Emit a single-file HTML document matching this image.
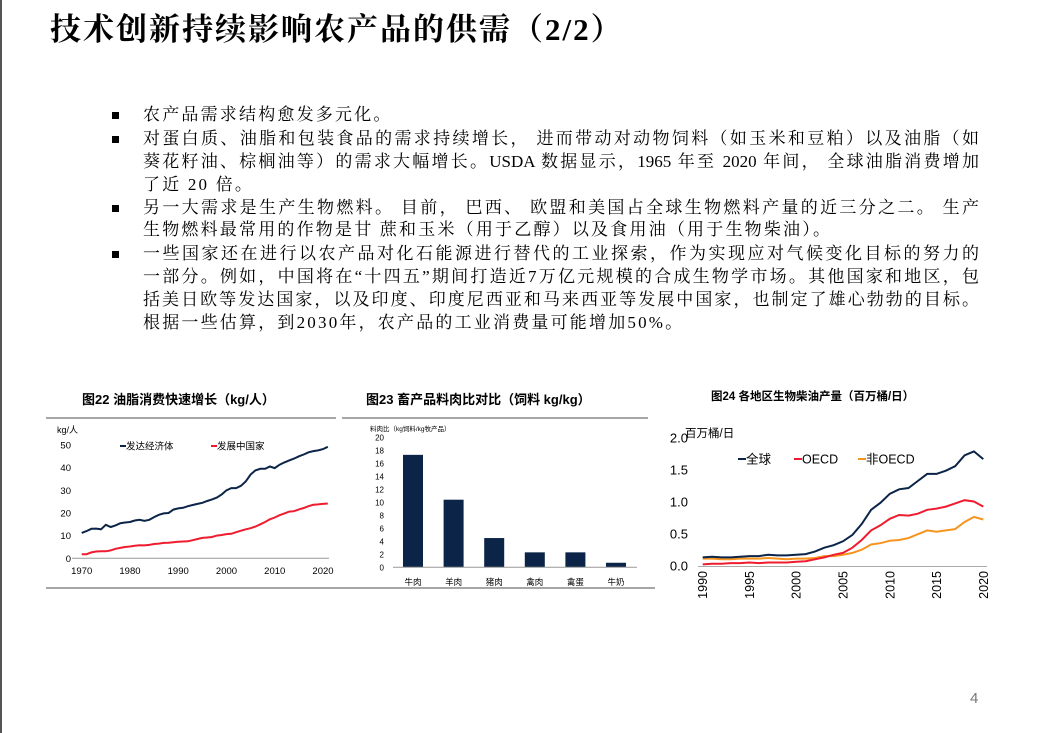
<!DOCTYPE html>
<html><head><meta charset="utf-8"><style>
body{margin:0;width:1062px;height:733px;background:#fff;position:relative;overflow:hidden;font-family:"Liberation Serif","Noto Serif CJK SC",serif;color:#000}
.abs{position:absolute}
.title{left:50px;top:4px;font-size:31px;letter-spacing:2px;font-family:"Liberation Serif","Noto Serif CJK SC",serif;font-weight:bold}
.ln{position:absolute;left:143px;width:836px;font-size:17px;line-height:20px;white-space:nowrap;text-align:justify;text-align-last:justify}
.ln.last{text-align-last:left;letter-spacing:2.2px}
.bul{position:absolute;left:112px;width:7px;height:7px;background:#000}
svg text{font-family:"Liberation Sans","Noto Sans CJK SC",sans-serif}
</style></head><body>
<div class="abs" style="left:0;top:0;width:2px;height:733px;background:#555"></div>
<div class="abs title">技术创新持续影响农产品的供需（2/2）</div>
<div class="bul" style="top:112px"></div>
<div class="ln last" style="top:105px">农产品需求结构愈发多元化。</div>
<div class="bul" style="top:136px"></div>
<div class="ln" style="top:129px">对蛋白质、油脂和包装食品的需求持续增长， 进而带动对动物饲料（如玉米和豆粕）以及油脂（如</div>
<div class="ln" style="top:152px">葵花籽油、棕榈油等）的需求大幅增长。USDA 数据显示，1965 年至 2020 年间， 全球油脂消费增加</div>
<div class="ln last" style="top:175px">了近 20 倍。</div>
<div class="bul" style="top:205px"></div>
<div class="ln" style="top:198px">另一大需求是生产生物燃料。 目前， 巴西、 欧盟和美国占全球生物燃料产量的近三分之二。 生产</div>
<div class="ln last" style="top:220px">生物燃料最常用的作物是甘 蔗和玉米（用于乙醇）以及食用油（用于生物柴油）。</div>
<div class="bul" style="top:251px"></div>
<div class="ln" style="top:244px">一些国家还在进行以农产品对化石能源进行替代的工业探索，作为实现应对气候变化目标的努力的</div>
<div class="ln" style="top:267px">一部分。例如，中国将在“十四五”期间打造近7万亿元规模的合成生物学市场。其他国家和地区，包</div>
<div class="ln" style="top:290px">括美日欧等发达国家，以及印度、印度尼西亚和马来西亚等发展中国家，也制定了雄心勃勃的目标。</div>
<div class="ln last" style="top:313px">根据一些估算，到2030年，农产品的工业消费量可能增加50%。</div>
<div class="abs" style="left:970px;top:690px;font-size:15px;color:#777;font-family:'Liberation Sans',sans-serif">4</div>
<svg id="charts" width="1062" height="733" style="position:absolute;left:0;top:0"></svg>
<script>
const years22=[];for(let y=1970;y<=2021;y++)years22.push(y);
const developed=[11.2,12,13,13.1,12.8,14.8,13.8,14.5,15.5,15.8,16,16.7,17,16.5,17,18.2,19.2,19.8,20,21.5,22,22.3,23,23.5,24,24.5,25.3,26,26.8,28.2,30,31,31,32,34,37,38.8,39.5,39.5,40.5,39.8,41.3,42.3,43.2,44,45,45.8,46.8,47.3,47.6,48.2,49.2];
const developing=[1.8,1.8,2.6,3,3.1,3.1,3.5,4.2,4.6,5,5.2,5.5,5.8,5.7,5.9,6.3,6.5,6.8,6.9,7.1,7.3,7.4,7.5,8,8.5,9,9.2,9.4,10,10.3,10.7,10.8,11.5,12.2,12.8,13.3,14,15,16,17.2,18,19,19.8,20.6,20.8,21.6,22.2,23,23.6,23.8,24,24.2];
const ticks22y=[0,10,20,30,40,50];
const ticks22x=[1970,1980,1990,2000,2010,2020];
const cats23=["牛肉","羊肉","猪肉","禽肉","禽蛋","牛奶"];
const vals23=[17.3,10.4,4.5,2.3,2.3,0.7];
const ticks23y=[0,2,4,6,8,10,12,14,16,18,20];
const years24=[];for(let y=1990;y<=2020;y++)years24.push(y);
const global24=[.13,.14,.13,.13,.14,.15,.15,.17,.16,.16,.17,.18,.22,.28,.32,.38,.48,.65,.87,.98,1.12,1.19,1.21,1.32,1.43,1.43,1.48,1.55,1.72,1.78,1.66];
const oecd24=[.02,.03,.03,.04,.04,.05,.04,.05,.05,.05,.06,.07,.1,.13,.17,.2,.28,.4,.55,.63,.73,.79,.78,.81,.87,.89,.92,.97,1.02,1.0,.92];
const nonoecd24=[.11,.11,.1,.1,.11,.11,.11,.12,.11,.1,.11,.11,.12,.15,.15,.17,.2,.25,.33,.35,.39,.4,.43,.49,.55,.53,.55,.57,.68,.76,.72];
const ticks24y=[0,0.5,1.0,1.5,2.0];
const ticks24x=[1990,1995,2000,2005,2010,2015,2020];

const svg=document.getElementById('charts');const NS='http://www.w3.org/2000/svg';
function mk(tag,attrs,text){const e=document.createElementNS(NS,tag);for(const k in attrs)e.setAttribute(k,attrs[k]);if(text!==undefined)e.textContent=text;svg.appendChild(e);return e;}
function path(xs,ys,sx,sy){return xs.map((x,i)=>(i?'L':'M')+sx(x).toFixed(1)+','+sy(ys[i]).toFixed(1)).join('');}

let e;
e=mk('line',{x1:46,x2:336,y1:418,y2:418,stroke:'#888','stroke-width':1.5});
e=mk('line',{x1:342,x2:648,y1:418,y2:418,stroke:'#888','stroke-width':1.5});
e=mk('line',{x1:46,x2:655,y1:588,y2:588,stroke:'#888','stroke-width':1.5});

// chart 22
const sx22=v=>81.7+(v-1970)*(323-81.7)/50, sy22=v=>558.3-v*113.3/50;
e=mk('text',{x:82,y:404,'font-size':13,'font-weight':'bold','font-family':'Liberation Serif,Noto Serif CJK SC,serif','xml:space':'preserve'},'图22   油脂消费快速增长（kg/人）');
e=mk('text',{x:57,y:433,'font-size':9},'kg/人');
e=mk('line',{x1:72,x2:329,y1:558.3,y2:558.3,stroke:'#999'});
ticks22y.forEach(t=>{e=mk('text',{x:71,y:sy22(t)+3.5,'font-size':9.5,'text-anchor':'end'},t);});
ticks22x.forEach(t=>{e=mk('text',{x:sx22(t),y:574,'font-size':9.5,'text-anchor':'middle'},t);});
e=mk('path',{d:path(years22,developed,sx22,sy22),fill:'none',stroke:'#0b2447','stroke-width':2});
e=mk('path',{d:path(years22,developing,sx22,sy22),fill:'none',stroke:'#ee1c2e','stroke-width':2});
e=mk('line',{x1:120,x2:126,y1:446,y2:446,stroke:'#0b2447','stroke-width':2});
e=mk('text',{x:126,y:449.5,'font-size':9.5},'发达经济体');
e=mk('line',{x1:211,x2:217,y1:446,y2:446,stroke:'#ee1c2e','stroke-width':2});
e=mk('text',{x:217,y:449.5,'font-size':9.5},'发展中国家');

// chart 23
const sy23=v=>567.3-v*130/20;
const bx23=i=>413+i*40.6;
e=mk('text',{x:366,y:404,'font-size':13,'font-weight':'bold','font-family':'Liberation Serif,Noto Serif CJK SC,serif','xml:space':'preserve'},'图23   畜产品料肉比对比（饲料 kg/kg）');
e=mk('text',{x:370,y:431,'font-size':6.5},'料肉比（kg饲料/kg牧产品）');
ticks23y.forEach(t=>{e=mk('text',{x:384,y:sy23(t)+3,'font-size':8,'text-anchor':'end'},t);});
vals23.forEach((v,i)=>{e=mk('rect',{x:bx23(i)-10,y:sy23(v),width:20,height:567.3-sy23(v),fill:'#0b2447'});
 e=mk('text',{x:bx23(i),y:585,'font-size':8.5,'text-anchor':'middle'},cats23[i]);});
e=mk('line',{x1:393,x2:637,y1:567.3,y2:567.3,stroke:'#999'});

// chart 24
const sx24=v=>702.7+(v-1990)*(983.3-702.7)/30, sy24=v=>565.7-v*128.4/2;
e=mk('text',{x:711,y:400,'font-size':11.5,'font-weight':'bold','font-family':'Liberation Serif,Noto Serif CJK SC,serif','xml:space':'preserve'},'图24   各地区生物柴油产量（百万桶/日）');
ticks24y.forEach(t=>{e=mk('text',{x:688,y:sy24(t)+5,'font-size':13,'text-anchor':'end'},t.toFixed(1));});
e=mk('text',{x:685,y:437,'font-size':11.5},'百万桶/日');
e=mk('line',{x1:698,x2:987,y1:566.5,y2:566.5,stroke:'#aaa'});
ticks24x.forEach(t=>{const x=sx24(t);e=mk('text',{x:0,y:0,'font-size':12.5,'text-anchor':'end',transform:`translate(${x+4.5},571) rotate(-90)`},t);});
e=mk('path',{d:path(years24,nonoecd24,sx24,sy24),fill:'none',stroke:'#f7941d','stroke-width':2});
e=mk('path',{d:path(years24,oecd24,sx24,sy24),fill:'none',stroke:'#ee1c2e','stroke-width':2});
e=mk('path',{d:path(years24,global24,sx24,sy24),fill:'none',stroke:'#0b2447','stroke-width':2});
const leg=[['全球','#0b2447',738],['OECD','#ee1c2e',794],['非OECD','#f7941d',858]];
leg.forEach(l=>{e=mk('line',{x1:l[2],x2:l[2]+8,y1:459,y2:459,stroke:l[1],'stroke-width':2});
 e=mk('text',{x:l[2]+8,y:463.5,'font-size':12.5},l[0]);});
</script>
</body></html>
